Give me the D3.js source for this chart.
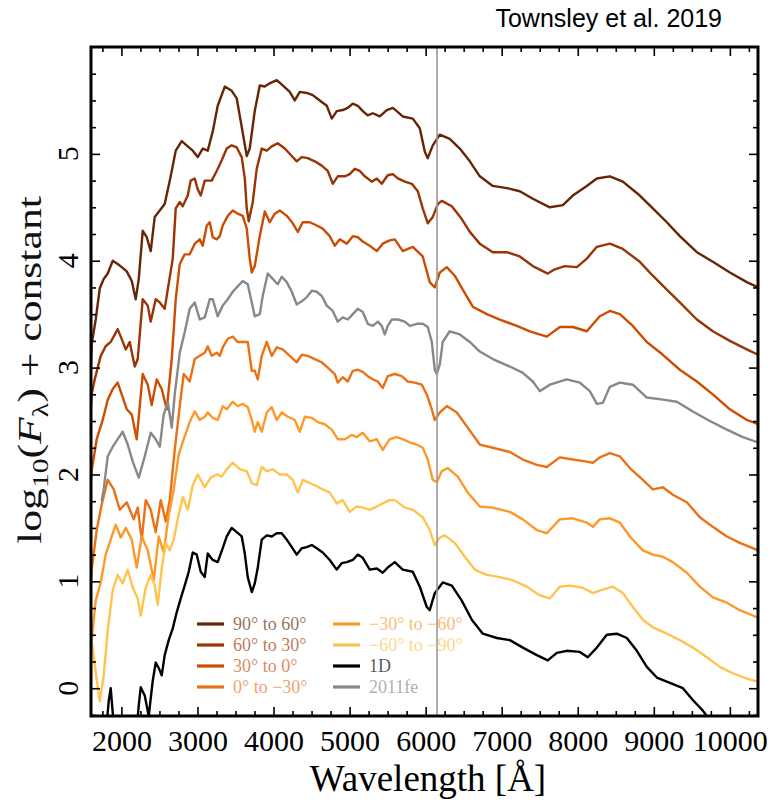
<!DOCTYPE html>
<html>
<head>
<meta charset="utf-8">
<script src="https://cdn.jsdelivr.net/npm/d3@7"></script>
<style>
  body { margin: 0; background: #fff; }
  svg text { font-family: "Liberation Serif", "DejaVu Serif", serif; }
</style>
</head>
<body>
<div id="chart"></div>
<script>
(function () {

  // spectra: [wavelength (A), log10 flux + offset]
  const polar90to60 = [[1600,3.05],[1609,3.22],[1662,3.45],[1715,3.74],[1767,3.83],[1820,3.88],[1886,4.00],[1951,3.97],[2004,3.94],[2070,3.90],[2136,3.81],[2188,3.64],[2228,3.83],[2280,4.28],[2333,4.22],[2385,4.09],[2438,4.41],[2504,4.47],[2569,4.53],[2648,4.79],[2714,5.03],[2793,5.12],[2872,5.07],[2938,5.03],[3003,4.97],[3069,5.05],[3135,5.03],[3201,5.21],[3266,5.45],[3359,5.63],[3450,5.59],[3516,5.52],[3582,5.25],[3648,4.98],[3687,5.05],[3753,5.40],[3819,5.64],[3885,5.63],[3950,5.66],[4042,5.69],[4121,5.64],[4213,5.58],[4279,5.50],[4345,5.58],[4437,5.57],[4516,5.55],[4608,5.50],[4700,5.45],[4766,5.33],[4831,5.40],[4910,5.41],[4976,5.43],[5042,5.47],[5108,5.45],[5173,5.40],[5239,5.36],[5305,5.38],[5397,5.35],[5489,5.41],[5568,5.43],[5620,5.40],[5699,5.35],[5831,5.33],[5923,5.24],[5989,5.02],[6028,4.96],[6094,5.08],[6186,5.18],[6317,5.14],[6449,5.05],[6581,4.93],[6712,4.79],[6883,4.70],[7067,4.68],[7238,4.65],[7409,4.58],[7633,4.50],[7804,4.52],[7935,4.61],[8119,4.70],[8251,4.77],[8422,4.79],[8593,4.74],[8816,4.61],[8987,4.49],[9171,4.36],[9342,4.23],[9566,4.08],[9776,3.99],[10000,3.89],[10223,3.80],[10370,3.75]]

  const polar60to30 = [[1600,2.65],[1609,2.75],[1649,2.89],[1728,3.11],[1793,3.20],[1859,3.24],[1951,3.36],[1991,3.29],[2057,3.17],[2109,3.24],[2175,3.01],[2214,3.08],[2280,3.64],[2346,3.58],[2385,3.43],[2451,3.64],[2504,3.61],[2569,3.55],[2609,3.73],[2675,4.02],[2714,4.49],[2767,4.55],[2806,4.51],[2872,4.61],[2911,4.75],[2964,4.77],[3003,4.67],[3043,4.61],[3096,4.75],[3187,4.75],[3253,4.84],[3319,4.94],[3385,5.05],[3450,5.08],[3516,5.06],[3582,4.97],[3622,4.77],[3648,4.49],[3674,4.37],[3727,4.55],[3779,4.86],[3845,5.05],[3911,5.03],[3977,5.07],[4055,5.10],[4148,5.05],[4240,4.98],[4305,4.93],[4371,4.97],[4450,4.96],[4542,4.93],[4634,4.89],[4713,4.84],[4779,4.72],[4845,4.79],[4937,4.79],[5002,4.81],[5068,4.86],[5134,4.84],[5200,4.79],[5292,4.74],[5358,4.77],[5423,4.72],[5502,4.80],[5568,4.81],[5634,4.77],[5726,4.74],[5818,4.72],[5897,4.65],[5962,4.49],[6028,4.35],[6094,4.41],[6160,4.53],[6212,4.56],[6344,4.51],[6475,4.39],[6581,4.27],[6712,4.16],[6883,4.08],[7067,4.08],[7238,4.04],[7409,3.95],[7606,3.88],[7699,3.92],[7830,3.95],[7988,3.94],[8119,4.02],[8251,4.13],[8422,4.16],[8593,4.11],[8816,3.99],[8987,3.86],[9171,3.73],[9342,3.61],[9566,3.45],[9776,3.34],[10000,3.25],[10223,3.17],[10370,3.12]]

  const polar30to0 = [[1600,1.95],[1609,2.04],[1675,2.33],[1754,2.51],[1820,2.70],[1886,2.80],[1951,2.86],[2004,2.75],[2070,2.61],[2136,2.56],[2201,2.33],[2280,2.94],[2346,2.84],[2398,2.65],[2464,2.89],[2530,2.80],[2596,2.61],[2662,3.08],[2714,3.64],[2767,3.97],[2832,4.06],[2898,4.06],[2964,4.16],[3030,4.20],[3069,4.14],[3122,4.33],[3161,4.36],[3201,4.22],[3253,4.20],[3293,4.23],[3332,4.33],[3398,4.42],[3464,4.47],[3529,4.44],[3595,4.42],[3648,4.30],[3687,4.02],[3714,3.89],[3753,3.95],[3819,4.23],[3885,4.46],[3950,4.36],[4016,4.44],[4082,4.47],[4174,4.42],[4253,4.35],[4319,4.27],[4384,4.36],[4476,4.36],[4568,4.33],[4647,4.30],[4739,4.23],[4805,4.14],[4871,4.20],[4963,4.16],[5042,4.23],[5108,4.22],[5173,4.18],[5265,4.14],[5358,4.09],[5436,4.16],[5528,4.19],[5594,4.20],[5699,4.09],[5831,4.13],[5962,4.04],[6054,3.80],[6120,3.75],[6186,3.89],[6278,3.94],[6383,3.86],[6488,3.73],[6620,3.57],[6804,3.50],[6975,3.45],[7199,3.39],[7370,3.34],[7593,3.29],[7764,3.38],[7935,3.38],[8119,3.34],[8290,3.48],[8422,3.53],[8553,3.50],[8724,3.39],[8908,3.24],[9119,3.12],[9342,2.98],[9566,2.87],[9776,2.75],[10000,2.61],[10223,2.51],[10370,2.47]]

  const polar0toM30 = [[1600,1.02],[1609,1.11],[1675,1.48],[1741,1.72],[1820,1.95],[1899,1.86],[1978,1.67],[2070,1.74],[2162,1.58],[2214,1.69],[2267,1.39],[2320,1.76],[2385,1.67],[2451,1.46],[2517,1.76],[2583,1.56],[2635,1.76],[2701,2.23],[2767,2.64],[2819,2.94],[2898,2.87],[2964,3.08],[3030,3.11],[3096,3.14],[3135,3.20],[3187,3.11],[3253,3.14],[3293,3.11],[3332,3.19],[3398,3.27],[3464,3.29],[3529,3.24],[3595,3.24],[3661,3.24],[3714,2.97],[3753,2.97],[3793,2.89],[3845,3.11],[3911,3.24],[3977,3.11],[4042,3.19],[4121,3.17],[4213,3.11],[4305,3.05],[4371,3.12],[4450,3.11],[4542,3.08],[4634,3.05],[4713,3.00],[4805,2.94],[4845,2.86],[4910,2.91],[4976,2.87],[5042,2.97],[5108,2.98],[5173,2.96],[5239,2.92],[5305,2.89],[5371,2.87],[5436,2.81],[5502,2.92],[5594,2.94],[5686,2.92],[5765,2.87],[5857,2.86],[5949,2.84],[6015,2.75],[6081,2.61],[6120,2.51],[6186,2.58],[6278,2.64],[6410,2.58],[6541,2.45],[6712,2.28],[6883,2.25],[7107,2.21],[7278,2.14],[7462,2.09],[7593,2.07],[7764,2.16],[7935,2.14],[8119,2.12],[8198,2.11],[8290,2.16],[8422,2.20],[8553,2.17],[8685,2.06],[8856,1.95],[8987,1.86],[9119,1.88],[9250,1.81],[9434,1.74],[9605,1.60],[9776,1.51],[9960,1.42],[10131,1.36],[10370,1.29]]

  const polarM30toM60 = [[1600,0.38],[1609,0.45],[1662,0.82],[1728,0.99],[1793,1.25],[1859,1.39],[1925,1.53],[1991,1.41],[2057,1.50],[2136,1.39],[2201,1.13],[2267,1.42],[2346,1.29],[2425,1.01],[2490,1.42],[2556,1.27],[2622,1.62],[2688,1.86],[2754,2.19],[2819,2.33],[2898,2.49],[2964,2.59],[3030,2.51],[3096,2.54],[3135,2.58],[3201,2.53],[3266,2.51],[3332,2.64],[3385,2.61],[3464,2.68],[3529,2.64],[3595,2.66],[3661,2.63],[3714,2.51],[3753,2.40],[3793,2.49],[3845,2.40],[3911,2.58],[3977,2.63],[4042,2.51],[4108,2.58],[4187,2.54],[4279,2.51],[4345,2.40],[4411,2.54],[4503,2.53],[4582,2.49],[4674,2.47],[4766,2.42],[4845,2.33],[4937,2.33],[5029,2.37],[5094,2.35],[5173,2.39],[5265,2.31],[5358,2.33],[5436,2.23],[5528,2.33],[5620,2.35],[5699,2.33],[5791,2.30],[5883,2.28],[5962,2.25],[6028,2.14],[6094,1.95],[6147,1.93],[6212,2.03],[6291,2.06],[6423,1.98],[6554,1.83],[6712,1.70],[6883,1.69],[7107,1.65],[7278,1.58],[7462,1.48],[7593,1.45],[7764,1.58],[7935,1.59],[8119,1.55],[8198,1.51],[8290,1.58],[8422,1.59],[8553,1.55],[8685,1.42],[8856,1.29],[8987,1.25],[9119,1.23],[9250,1.18],[9434,1.08],[9605,0.95],[9776,0.85],[9960,0.80],[10131,0.73],[10370,0.66]]

  const polarM60toM90 = [[1600,0.40],[1609,0.45],[1662,0.15],[1715,-0.12],[1767,0.12],[1820,0.54],[1886,0.92],[1951,1.06],[2017,0.98],[2083,1.11],[2149,0.94],[2214,0.84],[2254,0.68],[2320,0.94],[2385,1.06],[2438,0.96],[2477,0.78],[2530,1.12],[2583,1.36],[2635,1.29],[2688,1.39],[2740,1.58],[2806,1.79],[2872,1.67],[2938,1.90],[3003,2.00],[3096,1.88],[3174,1.97],[3253,2.00],[3319,1.98],[3385,2.05],[3464,2.11],[3556,2.05],[3648,2.03],[3714,1.92],[3779,1.90],[3845,2.07],[3911,2.03],[3990,2.05],[4082,2.00],[4174,2.00],[4253,1.95],[4319,1.83],[4384,1.95],[4476,1.92],[4568,1.89],[4647,1.86],[4739,1.83],[4831,1.73],[4910,1.76],[5002,1.65],[5094,1.70],[5173,1.69],[5265,1.67],[5358,1.70],[5436,1.73],[5528,1.76],[5594,1.76],[5726,1.69],[5831,1.67],[5962,1.60],[6054,1.48],[6120,1.34],[6186,1.41],[6252,1.43],[6383,1.36],[6515,1.23],[6646,1.11],[6804,1.06],[6975,1.04],[7146,1.01],[7330,0.95],[7501,0.87],[7633,0.84],[7764,0.95],[7896,0.96],[8067,0.94],[8198,0.89],[8317,0.92],[8461,0.95],[8593,0.89],[8724,0.76],[8856,0.64],[8987,0.57],[9171,0.51],[9342,0.45],[9513,0.38],[9697,0.29],[9868,0.20],[10039,0.14],[10223,0.09],[10370,0.06]]

  const model1D = [[1780,-0.55],[1833,-0.12],[1859,0.00],[1886,-0.23],[1925,-0.49],[2043,-0.68],[2188,-0.49],[2228,-0.16],[2254,0.01],[2307,-0.07],[2359,-0.26],[2412,0.07],[2451,0.24],[2490,0.19],[2530,0.12],[2569,0.31],[2622,0.45],[2675,0.56],[2727,0.71],[2780,0.84],[2832,0.96],[2885,1.09],[2938,1.27],[2990,1.25],[3043,1.09],[3095,1.04],[3135,1.26],[3201,1.20],[3266,1.18],[3332,1.31],[3385,1.42],[3450,1.50],[3516,1.46],[3582,1.42],[3622,1.26],[3661,1.04],[3714,0.90],[3753,0.98],[3793,1.13],[3845,1.39],[3911,1.43],[3977,1.42],[4042,1.45],[4108,1.45],[4174,1.39],[4240,1.32],[4305,1.25],[4371,1.31],[4437,1.32],[4503,1.34],[4568,1.31],[4647,1.27],[4739,1.20],[4831,1.11],[4897,1.17],[4963,1.18],[5042,1.20],[5108,1.25],[5173,1.22],[5265,1.11],[5358,1.12],[5436,1.08],[5502,1.13],[5594,1.18],[5699,1.11],[5831,1.09],[5923,0.95],[6015,0.76],[6054,0.73],[6120,0.89],[6225,0.99],[6344,0.96],[6475,0.82],[6607,0.64],[6752,0.51],[6936,0.47],[7107,0.45],[7278,0.38],[7462,0.31],[7606,0.26],[7725,0.33],[7856,0.35],[8027,0.34],[8132,0.29],[8251,0.38],[8382,0.50],[8514,0.51],[8645,0.47],[8777,0.35],[8908,0.20],[9040,0.10],[9211,0.05],[9382,0.00],[9513,-0.11],[9645,-0.21],[9737,-0.30],[10000,-0.58],[10370,-0.96]]

  const sn2011fe = [[1740,1.75],[1767,1.86],[1820,2.17],[1886,2.26],[1951,2.33],[2017,2.40],[2083,2.28],[2149,2.12],[2228,1.97],[2307,2.17],[2385,2.39],[2451,2.33],[2504,2.26],[2556,2.56],[2609,2.68],[2662,2.44],[2701,2.75],[2767,3.14],[2832,3.33],[2898,3.55],[2964,3.61],[3030,3.45],[3096,3.47],[3161,3.64],[3201,3.64],[3266,3.48],[3332,3.58],[3398,3.64],[3464,3.71],[3529,3.76],[3595,3.81],[3661,3.78],[3714,3.61],[3753,3.48],[3819,3.50],[3858,3.67],[3924,3.88],[3990,3.83],[4055,3.78],[4108,3.85],[4174,3.80],[4240,3.71],[4305,3.59],[4371,3.62],[4437,3.66],[4503,3.72],[4568,3.71],[4634,3.67],[4700,3.58],[4779,3.53],[4845,3.43],[4910,3.47],[4976,3.45],[5042,3.50],[5108,3.55],[5173,3.52],[5239,3.41],[5305,3.39],[5371,3.43],[5423,3.39],[5463,3.31],[5502,3.39],[5555,3.45],[5634,3.45],[5726,3.43],[5791,3.39],[5883,3.41],[5962,3.41],[6028,3.38],[6081,3.24],[6120,2.98],[6147,2.94],[6186,3.03],[6225,3.24],[6317,3.34],[6449,3.31],[6581,3.24],[6712,3.15],[6883,3.08],[7107,3.01],[7278,2.95],[7409,2.87],[7501,2.78],[7633,2.84],[7856,2.89],[8027,2.86],[8159,2.78],[8251,2.66],[8330,2.67],[8422,2.82],[8553,2.86],[8724,2.84],[8908,2.72],[9119,2.70],[9303,2.68],[9513,2.59],[9737,2.50],[9960,2.42],[10171,2.35],[10370,2.30]]

  const seriesNames = ["90° to 60°", "60° to 30°", "30° to 0°", "0° to −30°",
    "−30° to −60°", "−60° to −90°", "1D", "2011fe"]
  const seriesColors = ["#662506", "#993404", "#cc4c02", "#ec7014",
    "#fe9929", "#fec44f", "#000000", "#888888"]
  const seriesData = [polar90to60, polar60to30, polar30to0, polar0toM30,
    polarM30toM60, polarM60toM90, model1D, sn2011fe]

  const xTicks = [2000, 3000, 4000, 5000, 6000, 7000, 8000, 9000, 10000]
  const yTicks = [0, 1, 2, 3, 4, 5]
  const siLine = 6150

  const width = 774
  const height = 802
  const plot = { left: 91, right: 758, top: 47, bottom: 716 }
  const serif = "'Liberation Serif', 'DejaVu Serif', serif"

  const svg = d3.select("#chart").append("svg")
      .attr("width", width)
      .attr("height", height)

  const xScale = d3.scaleLinear().domain([1600, 10370]).range([plot.left, plot.right])
  const yScale = d3.scaleLinear().domain([-0.26, 6.0]).range([plot.bottom, plot.top])

  svg.append("defs").append("clipPath").attr("id", "clip")
    .append("rect")
      .attr("x", plot.left).attr("y", plot.top)
      .attr("width", plot.right - plot.left)
      .attr("height", plot.bottom - plot.top)

  const line = d3.line()
    .x(d => xScale(d[0]))
    .y(d => yScale(d[1]))

  const series = seriesNames.map((name, i) => ({ name: name, color: seriesColors[i], data: seriesData[i] }))

  const lines = svg.append("g").attr("clip-path", "url(#clip)")
  lines.selectAll("path")
    .data(series)
    .enter().append("path")
      .attr("d", d => line(d.data))
      .attr("fill", "none")
      .attr("stroke", d => d.color)
      .attr("stroke-width", 2.4)
      .attr("stroke-linejoin", "round")

  // vertical marker
  svg.append("line")
    .attr("x1", xScale(siLine)).attr("x2", xScale(siLine))
    .attr("y1", plot.top).attr("y2", plot.bottom)
    .attr("stroke", "#999")
    .attr("stroke-width", 1.6)

  // ticks on all four sides, pointing in
  const minorX = d3.range(1750, 10370, 250).filter(d => d % 1000 !== 0)
  const minorY = d3.range(-0.25, 6.0, 0.25).filter(d => Math.abs(d - Math.round(d)) > 0.01)

  svg.append("g")
    .attr("class", "axis x-axis")
    .attr("transform", "translate(0," + plot.bottom + ")")
    .call(d3.axisBottom(xScale).tickValues(xTicks).tickSize(-9).tickPadding(14).tickFormat(d3.format("d")))
  svg.append("g")
    .attr("transform", "translate(0," + plot.bottom + ")")
    .call(d3.axisBottom(xScale).tickValues(minorX).tickSize(-5).tickFormat(""))
  svg.append("g")
    .attr("transform", "translate(0," + plot.top + ")")
    .call(d3.axisTop(xScale).tickValues(xTicks).tickSize(-9).tickFormat(""))
  svg.append("g")
    .attr("transform", "translate(0," + plot.top + ")")
    .call(d3.axisTop(xScale).tickValues(minorX).tickSize(-5).tickFormat(""))
  svg.append("g")
    .attr("transform", "translate(" + plot.left + ",0)")
    .call(d3.axisLeft(yScale).tickValues(yTicks).tickSize(-9).tickFormat(""))
  svg.append("g")
    .attr("transform", "translate(" + plot.left + ",0)")
    .call(d3.axisLeft(yScale).tickValues(minorY).tickSize(-5).tickFormat(""))
  svg.append("g")
    .attr("transform", "translate(" + plot.right + ",0)")
    .call(d3.axisRight(yScale).tickValues(yTicks).tickSize(-9).tickFormat(""))
  svg.append("g")
    .attr("transform", "translate(" + plot.right + ",0)")
    .call(d3.axisRight(yScale).tickValues(minorY).tickSize(-5).tickFormat(""))

  svg.selectAll(".domain").remove()
  svg.selectAll(".tick line").attr("stroke", "#000").attr("stroke-width", 1.6)
  svg.selectAll(".x-axis text")
    .attr("font-family", serif)
    .attr("font-size", 30)
    .attr("fill", "#000")

  // rotated y tick labels
  svg.selectAll(".ylab")
    .data(yTicks)
    .enter().append("text")
      .attr("class", "ylab")
      .attr("transform", d => "translate(78," + yScale(d) + ") rotate(-90)")
      .attr("text-anchor", "middle")
      .attr("font-family", serif)
      .attr("font-size", 30)
      .text(d => d)

  // frame
  svg.append("rect")
    .attr("x", plot.left).attr("y", plot.top)
    .attr("width", plot.right - plot.left)
    .attr("height", plot.bottom - plot.top)
    .attr("fill", "none")
    .attr("stroke", "#000")
    .attr("stroke-width", 3)

  // axis titles
  svg.append("text")
    .attr("x", 428)
    .attr("y", 791)
    .attr("text-anchor", "middle")
    .attr("font-family", serif)
    .attr("font-size", 37)
    .text("Wavelength [Å]")

  const yl = svg.append("text")
    .attr("text-anchor", "middle")
    .attr("font-family", serif)
    .attr("font-size", 34)
    .attr("fill", "#111")
  yl.append("tspan").text("log")
  yl.append("tspan").attr("dy", 7).attr("font-size", 23).text("10")
  yl.append("tspan").attr("dy", -7).text("(")
  yl.append("tspan").attr("font-style", "italic").text("F")
  yl.append("tspan").attr("dy", 7).attr("font-size", 23).text("λ")
  yl.append("tspan").attr("dy", -7).text(") + constant")
  const ylLen = yl.node().getComputedTextLength()
  const stretch = ylLen > 0 ? 348 / ylLen : 1
  yl.attr("transform", "translate(41,370) rotate(-90) scale(" + stretch + ",1)")

  svg.append("text")
    .attr("x", 722)
    .attr("y", 27)
    .attr("text-anchor", "end")
    .style("font-family", "'Liberation Sans', Arial, sans-serif")
    .attr("font-size", 25)
    .text("Townsley et al. 2019")

  // legend, two columns of four
  const legend = svg.append("g").attr("class", "legend")
  const item = legend.selectAll("g")
    .data(series)
    .enter().append("g")
      .attr("transform", (d, i) => "translate(" + (i < 4 ? 197 : 333) + "," + (624 + (i % 4) * 21) + ")")
  item.append("line")
    .attr("x1", 0).attr("x2", 27)
    .attr("stroke", d => d.color)
    .attr("stroke-width", 3.2)
  item.append("text")
    .attr("x", 36)
    .attr("y", 6)
    .attr("font-family", serif)
    .attr("font-size", 18)
    .attr("fill", d => d.color)
    .attr("fill-opacity", 0.68)
    .text(d => d.name)

})();
</script>
</body>
</html>
